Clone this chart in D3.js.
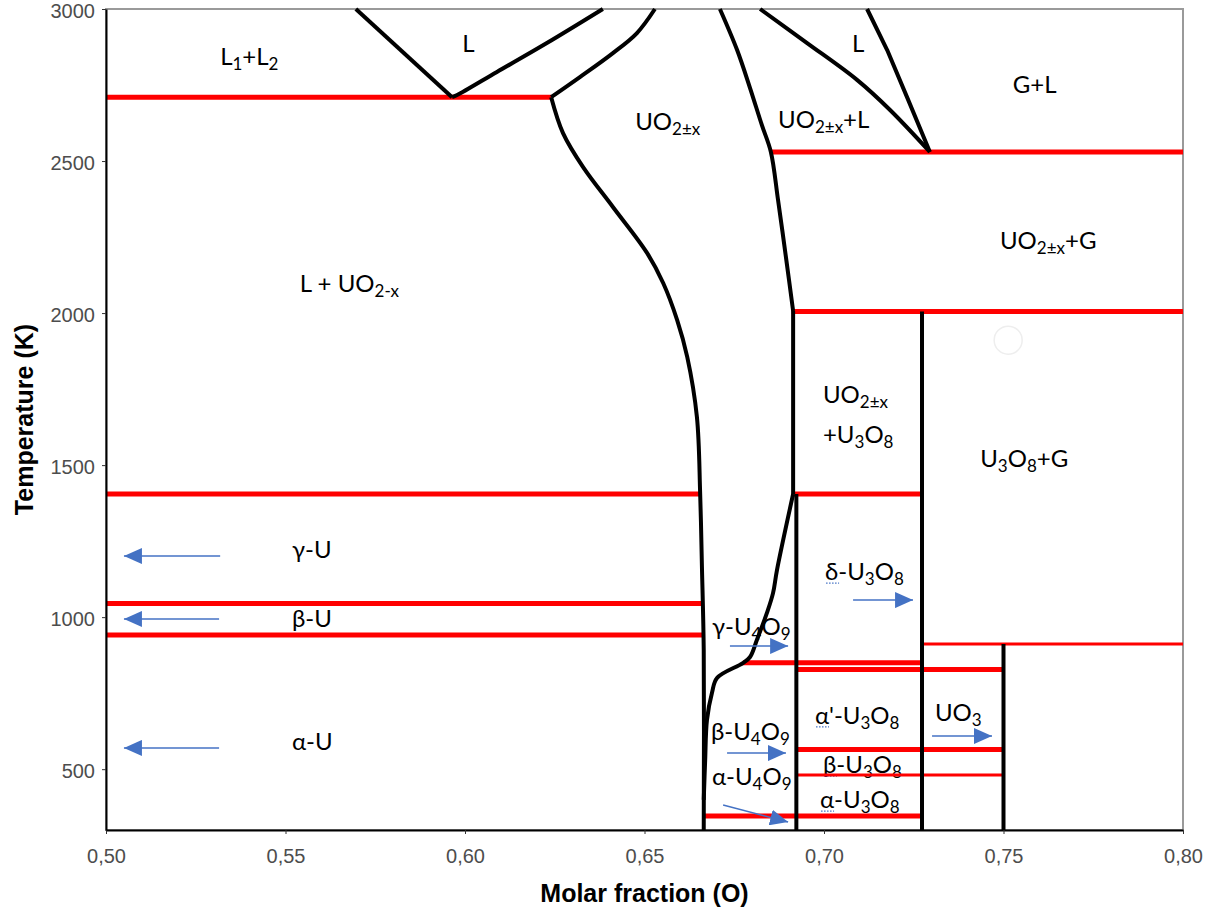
<!DOCTYPE html>
<html>
<head>
<meta charset="utf-8">
<script src="https://cdn.jsdelivr.net/npm/d3@7"></script>
<style>
  body { margin: 0; background: #fff; }
</style>
</head>
<body>
<script>
// ---- data ----
var xTicks = [0.50, 0.55, 0.60, 0.65, 0.70, 0.75, 0.80];
var yTicks = [500, 1000, 1500, 2000, 2500, 3000];

// phase boundaries [molar fraction O, temperature K]
var liqGapLeft = [[0.5696, 3000], [0.5964, 2710]];
var liqGapRight = [[0.5964, 2710], [0.5978, 2717], [0.6089, 2793], [0.6228, 2888], [0.6384, 3000]];
var uo2Liquidus = [[0.6529, 3000], [0.6479, 2921], [0.6412, 2855], [0.6320, 2776], [0.6240, 2710]];
var uo2Solidus = [[0.6240, 2710], [0.6273, 2592], [0.6329, 2480], [0.6412, 2349], [0.6507, 2198],
                  [0.6552, 2099], [0.6591, 1977], [0.6619, 1856], [0.6646, 1658], [0.6655, 1408],
                  [0.6660, 1165], [0.6665, 892], [0.6665, 300]];
var uo2RightTop = [[0.6710, 3000], [0.6758, 2865], [0.6794, 2740], [0.6827, 2618], [0.6852, 2530],
                   [0.6872, 2372], [0.6895, 2175], [0.6914, 2007]];
var uo2RightLow = [[0.6914, 1405], [0.6869, 1155], [0.6858, 1079], [0.6841, 1014], [0.6813, 925],
                   [0.6794, 869], [0.6774, 849], [0.6702, 800], [0.6688, 751], [0.6674, 662],
                   [0.6669, 530], [0.6665, 399]];
var liqRightA = [[0.6822, 3000], [0.6953, 2888], [0.7092, 2767], [0.7184, 2668], [0.7295, 2530]];
var liqRightB = [[0.7120, 3000], [0.7176, 2865], [0.7231, 2711], [0.7295, 2530]];
// vertical compounds [x, Ttop, Tbottom]
var compounds = [[0.6914, 2007, 1405], [0.6923, 1405, 300], [0.7273, 2005, 300], [0.75, 912, 300]];

// isotherms [T, x from, x to]
var isotherms = [[2710, 0.50, 0.624], [2530, 0.685, 0.80], [2005, 0.6910, 0.80],
                 [1405, 0.50, 0.6655], [1405, 0.6914, 0.7273], [1045, 0.50, 0.6663],
                 [941, 0.50, 0.6665], [912, 0.7273, 0.80], [850, 0.6774, 0.7276],
                 [828, 0.6923, 0.75], [565, 0.6923, 0.75], [481, 0.6923, 0.75],
                 [346, 0.6662, 0.7276]];
var thinIsotherms = [912, 481];

// arrows [x1, T1, x2, T2]
var arrows = [[0.5318, 1201, 0.5050, 1201], [0.5315, 994, 0.5050, 994], [0.5315, 570, 0.5050, 570],
              [0.7081, 1056, 0.7248, 1056], [0.6738, 905, 0.6900, 905], [0.7301, 609, 0.7468, 609],
              [0.6730, 553, 0.6894, 553], [0.6719, 382, 0.6900, 326]];

// labels [x, T, parts] ; part = [text, subscript?]
var labels = [
  [0.5318, 2816, [["L", 0], ["1", 1], ["+L", 0], ["2", 1]]],
  [0.5992, 2859, [["L", 0]]],
  [0.6474, 2602, [["UO", 0], ["2±x", 1]]],
  [0.5540, 2069, [["L + UO", 0], ["2-x", 1]]],
  [0.7078, 2859, [["L", 0]]],
  [0.7526, 2724, [["G+L", 0]]],
  [0.6872, 2609, [["UO", 0], ["2±x", 1], ["+L", 0]]],
  [0.7490, 2211, [["UO", 0], ["2±x", 1], ["+G", 0]]],
  [0.6997, 1704, [["UO", 0], ["2±x", 1]]],
  [0.6997, 1573, [["+U", 0], ["3", 1], ["O", 0], ["8", 1]]],
  [0.7435, 1494, [["U", 0], ["3", 1], ["O", 0], ["8", 1], ["+G", 0]]],
  [0.5518, 1195, [["γ-U", 0]]],
  [0.5518, 968, [["β-U", 0]]],
  [0.5518, 563, [["α-U", 0]]],
  [0.7003, 1122, [["δ-U", 0], ["3", 1], ["O", 0], ["8", 1]]],
  [0.6688, 941, [["γ-U", 0], ["4", 1], ["O", 0], ["9", 1]]],
  [0.6975, 649, [["α'-U", 0], ["3", 1], ["O", 0], ["8", 1]]],
  [0.7309, 658, [["UO", 0], ["3", 1]]],
  [0.6685, 596, [["β-U", 0], ["4", 1], ["O", 0], ["9", 1]]],
  [0.6997, 487, [["β-U", 0], ["3", 1], ["O", 0], ["8", 1]]],
  [0.6688, 448, [["α-U", 0], ["4", 1], ["O", 0], ["9", 1]]],
  [0.6989, 372, [["α-U", 0], ["3", 1], ["O", 0], ["8", 1]]]
];
// labels carrying the little spell-check squiggle under the first letter
var squiggled = [14, 16, 19, 21];

var width = 1216, height = 914;
var margin = {top: 9, left: 106, right: 33, bottom: 84};

var svg = d3.select("body").append("svg")
  .attr("width", width)
  .attr("height", height)
  .style("background", "#fff");

var xScale = d3.scaleLinear().domain([0.5, 0.8]).range([margin.left, width - margin.right]);
var yScale = d3.scaleLinear().domain([300, 3000]).range([height - margin.bottom, margin.top]);

// arrow head
svg.append("defs").append("marker")
  .attr("id", "head")
  .attr("markerUnits", "userSpaceOnUse")
  .attr("markerWidth", 19).attr("markerHeight", 16)
  .attr("refX", 18).attr("refY", 8)
  .attr("orient", "auto")
  .append("path").attr("d", "M0,0 L18,8 L0,16 Z").attr("fill", "#4472C4");

// panel border (top/right grey)
svg.append("rect")
  .attr("x", xScale(0.5)).attr("y", yScale(3000))
  .attr("width", xScale(0.8) - xScale(0.5)).attr("height", yScale(300) - yScale(3000))
  .attr("fill", "none").attr("stroke", "#9a9a9a").attr("stroke-width", 2);

// labels (under the lines, as in the picture)
var lab = svg.append("g").attr("font-family", "Lato, 'Open Sans', sans-serif").attr("fill", "#000");
labels.forEach(function(d, i) {
  var t = lab.append("text").attr("x", xScale(d[0])).attr("y", yScale(d[1])).attr("font-size", "24px");
  var low = false;
  d[2].forEach(function(p) {
    var s = t.append("tspan").text(p[0]);
    if (p[1] && !low) { s.attr("dy", 5).attr("font-size", "17px"); low = true; }
    else if (p[1]) { s.attr("font-size", "17px"); }
    else if (low) { s.attr("dy", -5); low = false; }
  });
  if (squiggled.indexOf(i) >= 0) {
    lab.append("line")
      .attr("x1", xScale(d[0]) + 1).attr("x2", xScale(d[0]) + 14)
      .attr("y1", yScale(d[1]) + 3).attr("y2", yScale(d[1]) + 3)
      .attr("stroke", "#4472C4").attr("stroke-width", 1.2).attr("stroke-dasharray", "1.5,1.5");
  }
});

// faint circle artefact
svg.append("circle").attr("cx", xScale(0.7513)).attr("cy", yScale(1911)).attr("r", 14)
  .attr("fill", "none").attr("stroke", "#eeeeee").attr("stroke-width", 1.5);

// red isotherms
svg.append("g").selectAll("line").data(isotherms).join("line")
  .attr("x1", function(d) { return xScale(d[1]); })
  .attr("x2", function(d) { return xScale(d[2]); })
  .attr("y1", function(d) { return yScale(d[0]); })
  .attr("y2", function(d) { return yScale(d[0]); })
  .attr("stroke", "#ff0000")
  .attr("stroke-width", function(d) { return thinIsotherms.indexOf(d[0]) >= 0 ? 3 : 5; });

// black phase boundaries
var smooth = d3.line()
  .x(function(d) { return xScale(d[0]); })
  .y(function(d) { return yScale(d[1]); })
  .curve(d3.curveCatmullRom.alpha(0.5));
var straight = d3.line()
  .x(function(d) { return xScale(d[0]); })
  .y(function(d) { return yScale(d[1]); });

var bg = svg.append("g").attr("fill", "none").attr("stroke", "#000")
  .attr("stroke-width", 4).attr("stroke-linejoin", "round");
[liqGapRight, uo2Liquidus, uo2Solidus, uo2RightTop, uo2RightLow, liqRightA].forEach(function(c) {
  bg.append("path").attr("d", smooth(c));
});
[liqGapLeft, liqRightB].forEach(function(c) {
  bg.append("path").attr("d", straight(c));
});
bg.selectAll("line").data(compounds).join("line")
  .attr("x1", function(d) { return xScale(d[0]); })
  .attr("x2", function(d) { return xScale(d[0]); })
  .attr("y1", function(d) { return yScale(d[1]); })
  .attr("y2", function(d) { return yScale(d[2]); });

// blue arrows
svg.append("g").selectAll("line").data(arrows).join("line")
  .attr("x1", function(d) { return xScale(d[0]); })
  .attr("y1", function(d) { return yScale(d[1]); })
  .attr("x2", function(d) { return xScale(d[2]); })
  .attr("y2", function(d) { return yScale(d[3]); })
  .attr("stroke", "#4472C4").attr("stroke-width", 1.5)
  .attr("marker-end", "url(#head)");

// axes
var fmt = function(d) { return d3.format(".2f")(d).replace(".", ","); };
var xAxis = svg.append("g")
  .attr("transform", "translate(0," + yScale(300) + ")")
  .call(d3.axisBottom(xScale).tickValues(xTicks).tickFormat(fmt).tickSizeInner(4).tickSizeOuter(0).tickPadding(15));
var yAxis = svg.append("g")
  .attr("transform", "translate(" + xScale(0.5) + ",0)")
  .call(d3.axisLeft(yScale).tickValues(yTicks).tickFormat(d3.format("d")).tickSizeInner(4).tickSizeOuter(0).tickPadding(7));
yAxis.selectAll(".tick text").attr("dy", "0.44em");
[xAxis, yAxis].forEach(function(a) {
  a.select(".domain").attr("stroke", "#000").attr("stroke-width", 2);
  a.selectAll(".tick line").attr("stroke", "#333");
  a.selectAll(".tick text").attr("fill", "#4d4d4d")
    .attr("font-family", "'Liberation Sans', Arial, sans-serif").attr("font-size", "20px");
});

svg.append("text")
  .attr("x", (xScale(0.5) + xScale(0.8)) / 2).attr("y", 902)
  .attr("text-anchor", "middle")
  .attr("font-family", "'Liberation Sans', Arial, sans-serif")
  .attr("font-weight", "bold").attr("font-size", "25px").attr("fill", "#000")
  .text("Molar fraction (O)");

svg.append("text")
  .attr("transform", "translate(33," + (yScale(300) + yScale(3000)) / 2 + ") rotate(-90)")
  .attr("text-anchor", "middle")
  .attr("font-family", "'Liberation Sans', Arial, sans-serif")
  .attr("font-weight", "bold").attr("font-size", "25px").attr("fill", "#000")
  .text("Temperature (K)");
</script>
</body>
</html>
